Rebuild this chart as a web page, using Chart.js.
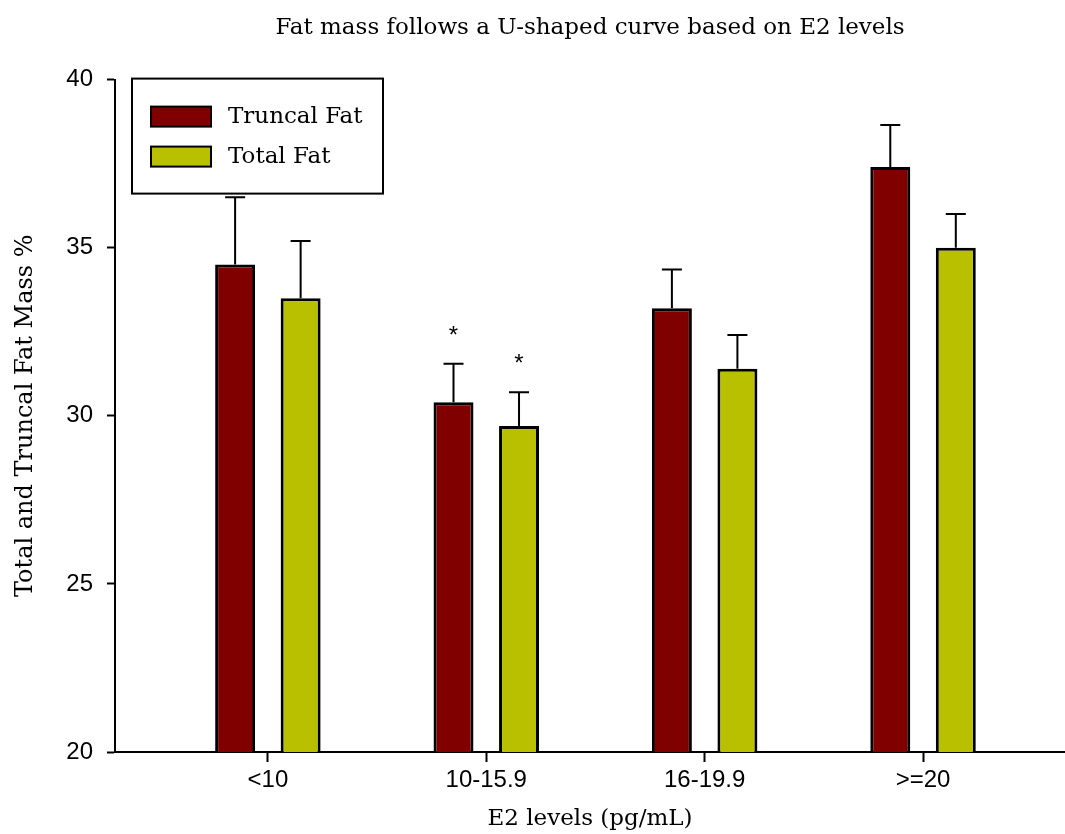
<!DOCTYPE html>
<html>
<head>
<meta charset="utf-8">
<script src="https://cdn.jsdelivr.net/npm/chart.js@4/dist/chart.umd.min.js"></script>
<style>
  html, body { margin: 0; padding: 0; background: #fff; }
  #wrap { width: 1065px; height: 834px; }
</style>
</head>
<body>
<div id="wrap"><canvas id="chart" width="1065" height="834"></canvas></div>
<script>
// data
const categories = ['<10', '10-15.9', '16-19.9', '>=20'];
const truncalFat = [34.5, 30.4, 33.2, 37.4];
const totalFat = [33.5, 29.7, 31.4, 35.0];
const truncalErr = [2.0, 1.15, 1.15, 1.25];
const totalErr = [1.7, 1.0, 1.0, 1.0];
const truncalSig = ['', '*', '', ''];
const totalSig = ['', '*', '', ''];
const yTicks = [20, 25, 30, 35, 40];

const serif = "'DejaVu Serif', serif";
const sans = "'Liberation Sans', Arial, sans-serif";

// error bars + asterisks on top of the bars
const errorBarPlugin = {
    id: 'errorBars',
    afterDatasetsDraw(chart) {
        const ctx = chart.ctx;
        const yScale = chart.scales.y;
        chart.data.datasets.forEach((ds, di) => {
            const meta = chart.getDatasetMeta(di);
            meta.data.forEach((bar, i) => {
                const top = yScale.getPixelForValue(ds.data[i].y + ds.errors[i]);
                ctx.save();
                ctx.strokeStyle = '#000';
                ctx.lineWidth = 2;
                ctx.beginPath();
                ctx.moveTo(bar.x, bar.y);
                ctx.lineTo(bar.x, top);
                ctx.moveTo(bar.x - 10, top);
                ctx.lineTo(bar.x + 10, top);
                ctx.stroke();
                if (ds.sig[i]) {
                    ctx.fillStyle = '#000';
                    ctx.font = '24px ' + sans;
                    ctx.textAlign = 'center';
                    ctx.textBaseline = 'alphabetic';
                    ctx.fillText(ds.sig[i], bar.x, top - 21);
                }
                ctx.restore();
            });
        });
    }
};

// boxed legend inside the plot
const boxLegendPlugin = {
    id: 'boxLegend',
    afterDraw(chart) {
        const ctx = chart.ctx;
        const area = chart.chartArea;
        const left = area.left + 17;
        const top = area.top - 1;
        ctx.save();
        ctx.fillStyle = '#fff';
        ctx.fillRect(left, top, 251, 115);
        ctx.strokeStyle = '#000';
        ctx.lineWidth = 2;
        ctx.strokeRect(left, top, 251, 115);
        chart.data.datasets.forEach((ds, i) => {
            const sy = top + 28 + i * 40;
            ctx.fillStyle = ds.backgroundColor;
            ctx.fillRect(left + 19, sy, 60, 20);
            ctx.strokeRect(left + 19, sy, 60, 20);
            ctx.fillStyle = '#000';
            ctx.font = '23px ' + serif;
            ctx.textAlign = 'left';
            ctx.textBaseline = 'middle';
            ctx.fillText(ds.label, left + 96, sy + 10);
        });
        ctx.restore();
    }
};

new Chart(document.getElementById('chart'), {
    type: 'bar',
    data: {
        datasets: [{
            label: 'Truncal Fat',
            data: truncalFat.map((v, i) => ({ x: i + 1, y: v })),
            errors: truncalErr,
            sig: truncalSig,
            backgroundColor: '#800000',
            borderColor: '#000',
            borderWidth: 3,
            borderSkipped: false
        }, {
            label: 'Total Fat',
            data: totalFat.map((v, i) => ({ x: i + 1, y: v })),
            errors: totalErr,
            sig: totalSig,
            backgroundColor: '#b8c000',
            borderColor: '#000',
            borderWidth: 3,
            borderSkipped: false
        }]
    },
    options: {
        responsive: false,
        animation: false,
        categoryPercentage: 0.6,
        barPercentage: 0.61,
        layout: { padding: { left: 0, right: 0, top: 0, bottom: 0 } },
        plugins: {
            legend: { display: false },
            tooltip: { enabled: false },
            title: {
                display: true,
                text: 'Fat mass follows a U-shaped curve based on E2 levels',
                color: '#000',
                fullSize: false,
                font: { family: serif, size: 23, weight: 'normal' },
                padding: { top: 14, bottom: 38 }
            }
        },
        scales: {
            x: {
                type: 'linear',
                offset: false,
                min: 0.3,
                max: 4.65,
                afterBuildTicks: scale => {
                    scale.ticks = categories.map((c, i) => ({ value: i + 1 }));
                },
                afterFit: scale => { scale.height = 82; },
                ticks: {
                    callback: v => categories[v - 1],
                    color: '#000',
                    font: { family: sans, size: 24 },
                    padding: 4,
                    autoSkip: false,
                    maxRotation: 0
                },
                grid: {
                    offset: false,
                    drawOnChartArea: false,
                    drawTicks: true,
                    tickLength: 10,
                    tickColor: '#000',
                    tickWidth: 2
                },
                border: { display: true, color: '#000', width: 2 },
                title: {
                    display: true,
                    text: 'E2 levels (pg/mL)',
                    color: '#000',
                    font: { family: serif, size: 23 },
                    padding: { top: 0, bottom: 1 }
                }
            },
            y: {
                min: 20,
                max: 40,
                afterBuildTicks: scale => {
                    scale.ticks = yTicks.map(v => ({ value: v }));
                },
                afterFit: scale => { scale.width = 115; },
                ticks: {
                    color: '#000',
                    font: { family: sans, size: 24 },
                    padding: 14
                },
                grid: {
                    drawOnChartArea: false,
                    drawTicks: true,
                    tickLength: 8,
                    tickColor: '#000',
                    tickWidth: 2
                },
                border: { display: true, color: '#000', width: 2 },
                title: {
                    display: true,
                    text: 'Total and Truncal Fat Mass %',
                    color: '#000',
                    font: { family: serif, size: 24 },
                    padding: { top: 11, bottom: 0 }
                }
            }
        }
    },
    plugins: [errorBarPlugin, boxLegendPlugin]
});
</script>
</body>
</html>
